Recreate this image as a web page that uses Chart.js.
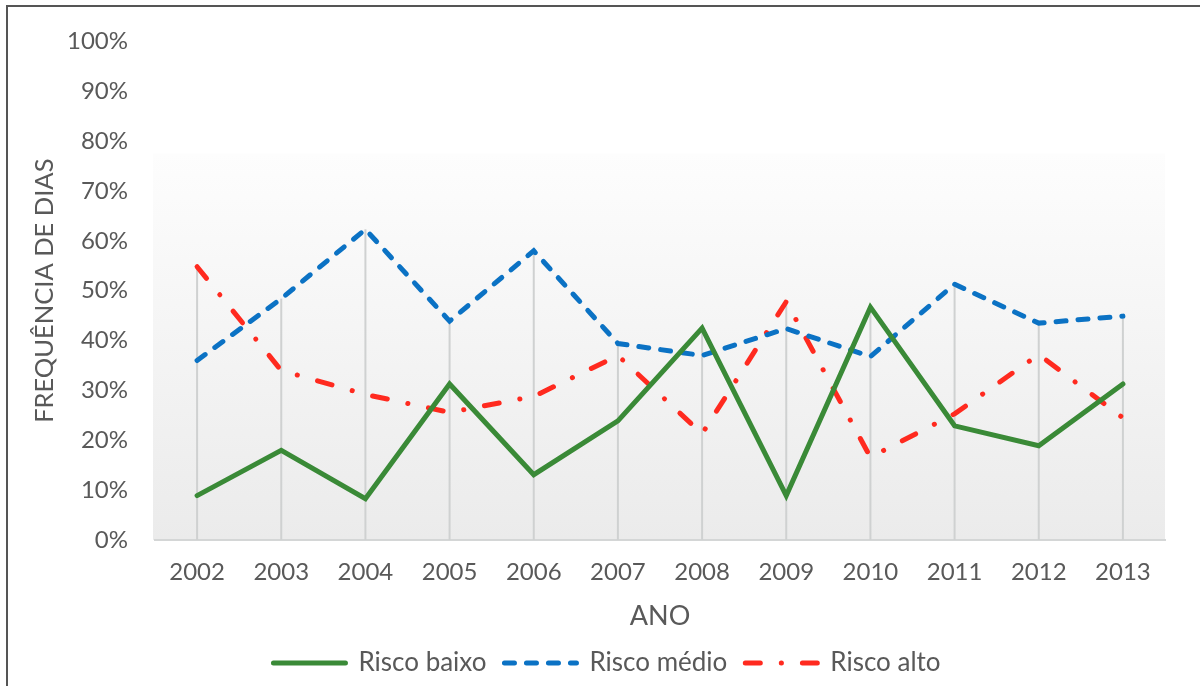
<!DOCTYPE html>
<html>
<head>
<meta charset="utf-8">
<script src="https://cdn.jsdelivr.net/npm/chart.js@4/dist/chart.umd.min.js"></script>
<style>
  html, body { margin: 0; padding: 0; background: #fff; }
  #wrap { position: relative; width: 1200px; height: 686px; }
  #frame {
    position: absolute; left: 6px; top: 5px; right: 0; bottom: -4px;
    border-left: 2px solid #555; border-top: 2px solid #555;
    pointer-events: none;
  }
</style>
</head>
<body>
<div id="wrap">
  <canvas id="riskChart" width="1200" height="686"></canvas>
  <div id="frame"></div>
</div>
<script>
// ============================================
// DATA
// ============================================

const YEARS = ['2002', '2003', '2004', '2005', '2006', '2007',
  '2008', '2009', '2010', '2011', '2012', '2013'];

// share of days per risk class (0..1)
const RISCO_BAIXO = [0.089, 0.180, 0.083, 0.313, 0.131, 0.239,
  0.425, 0.089, 0.467, 0.229, 0.189, 0.313];
const RISCO_MEDIO = [0.360, 0.484, 0.623, 0.439, 0.580, 0.394,
  0.370, 0.424, 0.368, 0.513, 0.435, 0.449];
const RISCO_ALTO = [0.548, 0.340, 0.292, 0.256, 0.288, 0.370,
  0.213, 0.478, 0.166, 0.253, 0.372, 0.245];

const Y_TICKS = [0, 0.1, 0.2, 0.3, 0.4, 0.5, 0.6, 0.7, 0.8, 0.9, 1];

const FONT = 'Lato, "Open Sans", sans-serif';
const TEXT_COLOR = '#595959';

// ============================================
// PLUGINS
// ============================================

// soft gray gradient behind the lower part of the plot
const plotBackground = {
  id: 'plotBackground',
  beforeDraw(chart) {
    const { ctx, chartArea, scales } = chart;
    const top = scales.y.getPixelForValue(0.775);
    const g = ctx.createLinearGradient(0, top, 0, chartArea.bottom);
    g.addColorStop(0, '#fdfdfd');
    g.addColorStop(1, '#ebebeb');
    ctx.save();
    ctx.fillStyle = g;
    ctx.fillRect(chartArea.left - 2, top, chartArea.right - chartArea.left + 2, chartArea.bottom - top);
    ctx.restore();
  },
};

// vertical drop lines from the axis up to the highest series value
const dropLines = {
  id: 'dropLines',
  beforeDatasetsDraw(chart) {
    const { ctx, scales } = chart;
    const datasets = chart.data.datasets;
    ctx.save();
    ctx.strokeStyle = '#cfd1d1';
    ctx.lineWidth = 2;
    YEARS.forEach((year, i) => {
      const top = Math.max(...datasets.map((d) => d.data[i]));
      const x = scales.x.getPixelForValue(i);
      ctx.beginPath();
      ctx.moveTo(x, scales.y.getPixelForValue(0));
      ctx.lineTo(x, scales.y.getPixelForValue(top));
      ctx.stroke();
    });
    ctx.restore();
  },
};

// nudge the legend row so it sits under the plot rather than the canvas
const legendShift = {
  id: 'legendShift',
  afterLayout(chart) {
    chart.legend.left += 10;
    chart.legend.right += 10;
  },
};

// ============================================
// CHART
// ============================================

const ctx = document.getElementById('riskChart').getContext('2d');

new Chart(ctx, {
  type: 'line',
  data: {
    labels: YEARS,
    datasets: [
      {
        label: 'Risco baixo',
        data: RISCO_BAIXO,
        borderColor: '#3a8a37',
        backgroundColor: '#3a8a37',
        borderWidth: 5,
        borderCapStyle: 'round',
        borderJoinStyle: 'miter',
        pointStyle: 'line',
      },
      {
        label: 'Risco médio',
        data: RISCO_MEDIO,
        borderColor: '#0b72c4',
        backgroundColor: '#0b72c4',
        borderWidth: 5,
        borderDash: [10, 12],
        borderCapStyle: 'round',
        pointStyle: 'line',
      },
      {
        label: 'Risco alto',
        data: RISCO_ALTO,
        borderColor: '#ff2a1f',
        backgroundColor: '#ff2a1f',
        borderWidth: 5,
        borderDash: [15, 21, 0.1, 21],
        borderCapStyle: 'round',
        pointStyle: 'line',
      },
    ],
  },
  options: {
    responsive: false,
    animation: false,
    layout: { padding: { left: 29, right: 35, top: 34, bottom: 0 } },
    elements: {
      line: { tension: 0, fill: false },
      point: { radius: 0, hoverRadius: 0 },
    },
    plugins: {
      legend: {
        position: 'bottom',
        labels: {
          usePointStyle: true,
          pointStyleWidth: 72,
          boxHeight: 5,
          padding: 18,
          color: TEXT_COLOR,
          font: { family: FONT, size: 26 },
          // point-style legend items lose the dash pattern, put it back
          generateLabels(chart) {
            const items = Chart.defaults.plugins.legend.labels.generateLabels(chart);
            items.forEach((item) => {
              const ds = chart.data.datasets[item.datasetIndex];
              item.lineDash = ds.borderDash || [];
              item.lineCap = 'round';
              item.lineWidth = 5;
            });
            return items;
          },
        },
      },
      tooltip: { enabled: false },
    },
    scales: {
      x: {
        offset: true,
        afterFit(axis) {
          axis.height = 92;
        },
        grid: { display: false, drawTicks: false },
        border: { display: true, color: '#d4d6d6', width: 2 },
        ticks: {
          color: TEXT_COLOR,
          font: { family: FONT, size: 24 },
          padding: 18,
          maxRotation: 0,
        },
        title: {
          display: true,
          text: 'ANO',
          color: TEXT_COLOR,
          font: { family: FONT, size: 27 },
          padding: { top: 0, bottom: 0 },
        },
      },
      y: {
        min: 0,
        max: 1,
        afterBuildTicks(axis) {
          axis.ticks = Y_TICKS.map((v) => ({ value: v }));
        },
        afterFit(axis) {
          axis.width = 126;
        },
        grid: { display: false, drawTicks: false },
        border: { display: false },
        ticks: {
          color: TEXT_COLOR,
          font: { family: FONT, size: 24 },
          padding: 27,
          callback: (v) => Math.round(v * 100) + '%',
        },
        title: {
          display: true,
          text: 'FREQUÊNCIA DE DIAS',
          color: TEXT_COLOR,
          font: { family: FONT, size: 25.5 },
          padding: { top: 0, bottom: 0 },
        },
      },
    },
  },
  plugins: [plotBackground, dropLines, legendShift],
});
</script>
</body>
</html>
